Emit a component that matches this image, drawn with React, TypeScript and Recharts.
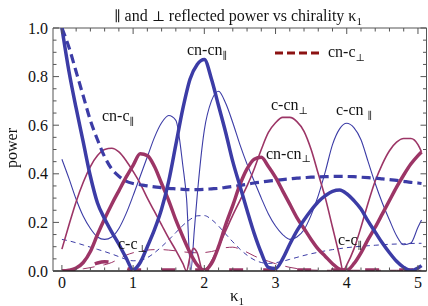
import React from "react";
import { LineChart, Line, XAxis, YAxis, ReferenceLine } from "recharts";

// shared κ1 grid
const kappa = [
  0, 0.1, 0.2, 0.3, 0.4, 0.5, 0.6, 0.7, 0.8, 0.9, 1.0, 1.1, 1.2, 1.3, 1.4, 1.5, 1.6, 1.7, 1.8, 1.9, 2.0,
  2.1, 2.2, 2.3, 2.4, 2.5, 2.6, 2.7, 2.8, 2.9, 3.0, 3.1, 3.2, 3.3, 3.4, 3.5, 3.6, 3.7, 3.8, 3.9, 4.0,
  4.1, 4.2, 4.3, 4.4, 4.5, 4.6, 4.7, 4.8, 4.9, 5.0, 5.05,
];

// cn-cn ∥ (thick blue solid)
const cnCnPar = [
  1.0, 0.82, 0.67, 0.53, 0.39, 0.28, 0.215, 0.16, 0.11, 0.055, 0.005, 0.035, 0.1, 0.17, 0.255, 0.37, 0.52,
  0.67, 0.79, 0.85, 0.87, 0.79, 0.68, 0.57, 0.45, 0.35, 0.25, 0.155, 0.075, 0.015, 0.01, 0.05, 0.11, 0.165,
  0.21, 0.25, 0.285, 0.31, 0.328, 0.333, 0.318, 0.29, 0.255, 0.205, 0.16, 0.115, 0.075, 0.04, 0.015, 0.002,
  0.012, 0.022,
];

// cn-c ∥ (thick blue dashed)
const cnCPar = [
  1.0, 0.92, 0.82, 0.72, 0.62, 0.54, 0.47, 0.42, 0.39, 0.37, 0.36, 0.355, 0.35, 0.346, 0.343, 0.34, 0.338,
  0.336, 0.335, 0.335, 0.336, 0.338, 0.34, 0.344, 0.348, 0.352, 0.357, 0.362, 0.366, 0.37, 0.373, 0.376,
  0.379, 0.382, 0.384, 0.386, 0.387, 0.388, 0.389, 0.389, 0.389, 0.388, 0.386, 0.384, 0.382, 0.379, 0.376,
  0.373, 0.369, 0.365, 0.362, 0.36,
];

// c-cn ∥ (thin blue solid), own grid for the sharp dip
const kappaCCnPar = [
  0, 0.1, 0.2, 0.3, 0.4, 0.5, 0.6, 0.7, 0.8, 0.9, 1.0, 1.1, 1.2, 1.3, 1.4, 1.5, 1.6, 1.7, 1.75, 1.81, 1.86,
  1.9, 2.0, 2.1, 2.2, 2.3, 2.4, 2.5, 2.6, 2.7, 2.8, 2.9, 3.0, 3.1, 3.2, 3.3, 3.4, 3.5, 3.6, 3.7, 3.8, 3.9,
  4.0, 4.1, 4.2, 4.3, 4.4, 4.5, 4.6, 4.7, 4.8, 4.9, 5.0, 5.05,
];
const cCnPar = [
  0.46, 0.38, 0.295, 0.225, 0.175, 0.14, 0.13, 0.14, 0.175, 0.235, 0.31, 0.39, 0.47, 0.55, 0.61, 0.64, 0.62,
  0.43, 0.3, 0.0, 0.17, 0.31, 0.58, 0.7, 0.74, 0.69, 0.61, 0.52, 0.44, 0.37, 0.3, 0.235, 0.185, 0.15, 0.13,
  0.14, 0.17, 0.23, 0.31, 0.41, 0.52, 0.585, 0.608, 0.59, 0.54, 0.45, 0.36, 0.28, 0.21, 0.145, 0.108, 0.115,
  0.18, 0.21,
];

// c-c ∥ (thin blue dashed)
const cCPar = [
  0.13, 0.124, 0.116, 0.107, 0.098, 0.089, 0.08, 0.07, 0.059, 0.048, 0.042, 0.044, 0.055, 0.075, 0.1, 0.128,
  0.158, 0.188, 0.212, 0.227, 0.228, 0.212, 0.185, 0.152, 0.12, 0.09, 0.065, 0.046, 0.035, 0.031, 0.034,
  0.04, 0.048, 0.056, 0.064, 0.071, 0.077, 0.083, 0.088, 0.092, 0.096, 0.099, 0.102, 0.104, 0.106, 0.108,
  0.11, 0.111, 0.112, 0.113, 0.114, 0.114,
];

// cn-cn ⊥ (thick magenta solid)
const cnCnPerp = [
  0, 0.003, 0.012, 0.035, 0.08, 0.15, 0.215, 0.275, 0.33, 0.385, 0.435, 0.482, 0.475, 0.43, 0.36, 0.29, 0.21,
  0.14, 0.075, 0.025, 0.003, 0.03, 0.1, 0.19, 0.27, 0.355, 0.42, 0.46, 0.468, 0.43, 0.385, 0.33, 0.275, 0.22,
  0.175, 0.13, 0.09, 0.06, 0.03, 0.008, 0.003, 0.03, 0.075, 0.13, 0.18, 0.235, 0.29, 0.345, 0.395, 0.44,
  0.475, 0.49,
];

// c-cn ⊥ (thin magenta solid), own grid for the cusps
const kappaCCnPerp = [
  0, 0.1, 0.2, 0.3, 0.4, 0.5, 0.6, 0.7, 0.8, 0.9, 1.0, 1.1, 1.2, 1.3, 1.4, 1.5, 1.6, 1.7, 1.75, 1.8, 1.85,
  1.9, 1.98, 2.1, 2.2, 2.3, 2.4, 2.5, 2.6, 2.7, 2.8, 2.9, 3.0, 3.1, 3.2, 3.3, 3.4, 3.5, 3.6, 3.7, 3.8, 3.9,
  3.95, 4.0, 4.1, 4.2, 4.3, 4.4, 4.5, 4.6, 4.7, 4.8, 4.9, 5.0, 5.05,
];
const cCnPerp = [
  0.09, 0.19, 0.285, 0.365, 0.43, 0.475, 0.5, 0.505, 0.49, 0.455, 0.41, 0.36, 0.3, 0.245, 0.19, 0.135, 0.085,
  0.03, 0.0, 0.06, 0.093, 0.075, 0.0, 0.04, 0.1, 0.165, 0.23, 0.29, 0.35, 0.42, 0.5, 0.57, 0.61, 0.632, 0.632,
  0.615, 0.575, 0.5, 0.4, 0.3, 0.18, 0.06, 0.0, 0.025, 0.09, 0.18, 0.28, 0.37, 0.44, 0.495, 0.53, 0.545,
  0.545, 0.52, 0.49,
];

// c-c ⊥ (thin magenta dashed)
const cCPerp = [
  0, 0.002, 0.005, 0.009, 0.014, 0.02, 0.026, 0.035, 0.05, 0.065, 0.075, 0.082, 0.086, 0.088, 0.088, 0.086,
  0.083, 0.079, 0.076, 0.075, 0.076, 0.08, 0.088, 0.096, 0.098, 0.09, 0.077, 0.062, 0.05, 0.04, 0.03, 0.022,
  0.015, 0.01, 0.006, 0.004, 0.003, 0.003, 0.003, 0.003, 0.003, 0.003, 0.003, 0.003, 0.003, 0.003, 0.003,
  0.003, 0.003, 0.003, 0.003, 0.003,
];

// cn-c ⊥ (thick dashed, close to zero)
const cnCPerp = [
  0, 0.001, 0.004, 0.01, 0.022, 0.033, 0.038, 0.035, 0.025, 0.012, 0.004, 0.004, 0.004, 0.004, 0.004, 0.004,
  0.004, 0.004, 0.004, 0.004, 0.004, 0.004, 0.004, 0.004, 0.004, 0.004, 0.004, 0.004, 0.004, 0.004, 0.004,
  0.004, 0.004, 0.004, 0.004, 0.004, 0.004, 0.004, 0.004, 0.004, 0.004, 0.004, 0.004, 0.004, 0.004, 0.004,
  0.004, 0.004, 0.004, 0.004, 0.004, 0.004,
];

const xTicks = [
  0, 0.2, 0.4, 0.6, 0.8, 1, 1.2, 1.4, 1.6, 1.8, 2, 2.2, 2.4, 2.6, 2.8, 3, 3.2, 3.4, 3.6, 3.8, 4, 4.2, 4.4,
  4.6, 4.8, 5,
];
const yTicks = [
  0, 0.05, 0.1, 0.15, 0.2, 0.25, 0.3, 0.35, 0.4, 0.45, 0.5, 0.55, 0.6, 0.65, 0.7, 0.75, 0.8, 0.85, 0.9,
  0.95, 1,
];

const X_MIN = -0.125;
const X_MAX = 5.12;
const PLOT_W = 373.5;
const PLOT_H = 243;
const BLUE = "#3c3ca6";
const MAGENTA = "#9c3566";
const FRAME = "#555";
const FONT = "Liberation Serif, Times New Roman, serif";
const SYM_FONT = "DejaVu Serif, DejaVu Sans, serif";

const pts = (xs: number[], ys: number[]) => xs.map((k, i) => ({ k, v: ys[i] }));

function renderXTick(props: any) {
  const { x, y, payload } = props;
  const v: number = payload.value;
  const major = Math.abs(v - Math.round(v)) < 1e-6;
  const len = major ? 6 : 3.5;
  return (
    <g>
      <line x1={x} x2={x} y1={y} y2={y - len} stroke={FRAME} />
      <line x1={x} x2={x} y1={y - PLOT_H} y2={y - PLOT_H + len} stroke={FRAME} />
      {major && (
        <text x={x} y={y + 17} textAnchor="middle" fill="#111" style={{ fontFamily: FONT, fontSize: 16 }}>
          {String(Math.round(v))}
        </text>
      )}
    </g>
  );
}

function renderYTick(props: any) {
  const { x, y, payload } = props;
  const v: number = payload.value;
  const major = Math.round(v * 100) % 20 === 0;
  const len = major ? 6 : 3.5;
  return (
    <g>
      <line x1={x} x2={x + len} y1={y} y2={y} stroke={FRAME} />
      <line x1={x + PLOT_W} x2={x + PLOT_W - len} y1={y} y2={y} stroke={FRAME} />
      {major && (
        <text x={x - 5} y={y + 5.5} textAnchor="end" fill="#111" style={{ fontFamily: FONT, fontSize: 16 }}>
          {v.toFixed(1)}
        </text>
      )}
    </g>
  );
}

// subscript; symbols taken from DejaVu
function Sub({ children, sym }: { children: React.ReactNode; sym?: boolean }) {
  return (
    <tspan dy={3.5} style={{ fontSize: sym ? 10 : 11, fontFamily: sym ? SYM_FONT : FONT }}>
      {children}
    </tspan>
  );
}

function Sym({ children }: { children: React.ReactNode }) {
  return <tspan style={{ fontFamily: SYM_FONT, fontSize: 14 }}>{children}</tspan>;
}

export default function App() {
  return (
    <div style={{ position: "absolute", left: 0, top: 0, width: 428, height: 306, background: "#fff" }}>
      <LineChart width={428} height={306} margin={{ top: 28, right: 1.5, bottom: 5, left: 8 }}>
        <XAxis
          type="number"
          dataKey="k"
          domain={[X_MIN, X_MAX]}
          ticks={xTicks}
          interval={0}
          height={30}
          tickSize={0}
          tickMargin={0}
          tickLine={false}
          tick={renderXTick}
          axisLine={{ stroke: "#222", strokeWidth: 1.6 }}
          allowDataOverflow
        />
        <YAxis
          type="number"
          domain={[0, 1]}
          ticks={yTicks}
          interval={0}
          width={45}
          tickSize={0}
          tickMargin={0}
          tickLine={false}
          tick={renderYTick}
          axisLine={{ stroke: FRAME }}
          allowDataOverflow
        />
        <ReferenceLine y={1} stroke={FRAME} />
        <ReferenceLine x={X_MAX} stroke={FRAME} />

        <Line data={pts(kappa, cnCPerp)} dataKey="v" type="monotone" stroke={MAGENTA} strokeWidth={3.5}
          strokeDasharray="14 20" dot={false} isAnimationActive={false} />
        <Line data={pts(kappa, cCPerp)} dataKey="v" type="monotone" stroke={MAGENTA} strokeWidth={1}
          strokeDasharray="12 9" dot={false} isAnimationActive={false} />
        <Line data={pts(kappa, cCPar)} dataKey="v" type="monotone" stroke={BLUE} strokeWidth={1}
          strokeDasharray="5 4" dot={false} isAnimationActive={false} />
        <Line data={pts(kappaCCnPar, cCnPar)} dataKey="v" type="monotone" stroke={BLUE} strokeWidth={1.1}
          dot={false} isAnimationActive={false} />
        <Line data={pts(kappaCCnPerp, cCnPerp)} dataKey="v" type="monotone" stroke={MAGENTA} strokeWidth={1.6}
          dot={false} isAnimationActive={false} />
        <Line data={pts(kappa, cnCPar)} dataKey="v" type="monotone" stroke={BLUE} strokeWidth={3.2}
          strokeDasharray="9 5" dot={false} isAnimationActive={false} />
        <Line data={pts(kappa, cnCnPerp)} dataKey="v" type="monotone" stroke={MAGENTA} strokeWidth={3.5}
          dot={false} isAnimationActive={false} />
        <Line data={pts(kappa, cnCnPar)} dataKey="v" type="monotone" stroke={BLUE} strokeWidth={3.5}
          dot={false} isAnimationActive={false} />
      </LineChart>

      <svg
        width={428}
        height={306}
        style={{
          position: "absolute",
          left: 0,
          top: 0,
          pointerEvents: "none",
          fontFamily: FONT,
          fontSize: 16,
          opacity: 0.99,
          willChange: "transform",
        }}
        fill="#111"
      >
        <text x={238} y={21} textAnchor="middle">
          <Sym>∥</Sym> and <Sym>⊥</Sym> reflected power vs chirality κ<Sub>1</Sub>
        </text>
        <text x={17} y={148} textAnchor="middle" transform="rotate(-90 17 148)">
          power
        </text>
        <text x={237} y={301} textAnchor="middle" style={{ fontSize: 17 }}>
          κ<Sub>1</Sub>
        </text>

        <line x1={275} x2={320} y1={53} y2={53} stroke="#8b1010" strokeWidth={3} strokeDasharray="8 4" />
        <text x={328} y={57}>cn-c<Sub sym>⊥</Sub></text>

        <text x={187} y={55}>cn-cn<Sub sym>∥</Sub></text>
        <text x={102} y={121}>cn-c<Sub sym>∥</Sub></text>
        <text x={271} y={110}>c-cn<Sub sym>⊥</Sub></text>
        <text x={336} y={115}>c-cn <Sub sym>∥</Sub></text>
        <text x={266} y={158.5}>cn-cn<Sub sym>⊥</Sub></text>
        <text x={118} y={248.5}>c-c<Sub sym>⊥</Sub></text>
        <text x={338} y={245}>c-c<Sub sym>∥</Sub></text>
      </svg>
    </div>
  );
}
